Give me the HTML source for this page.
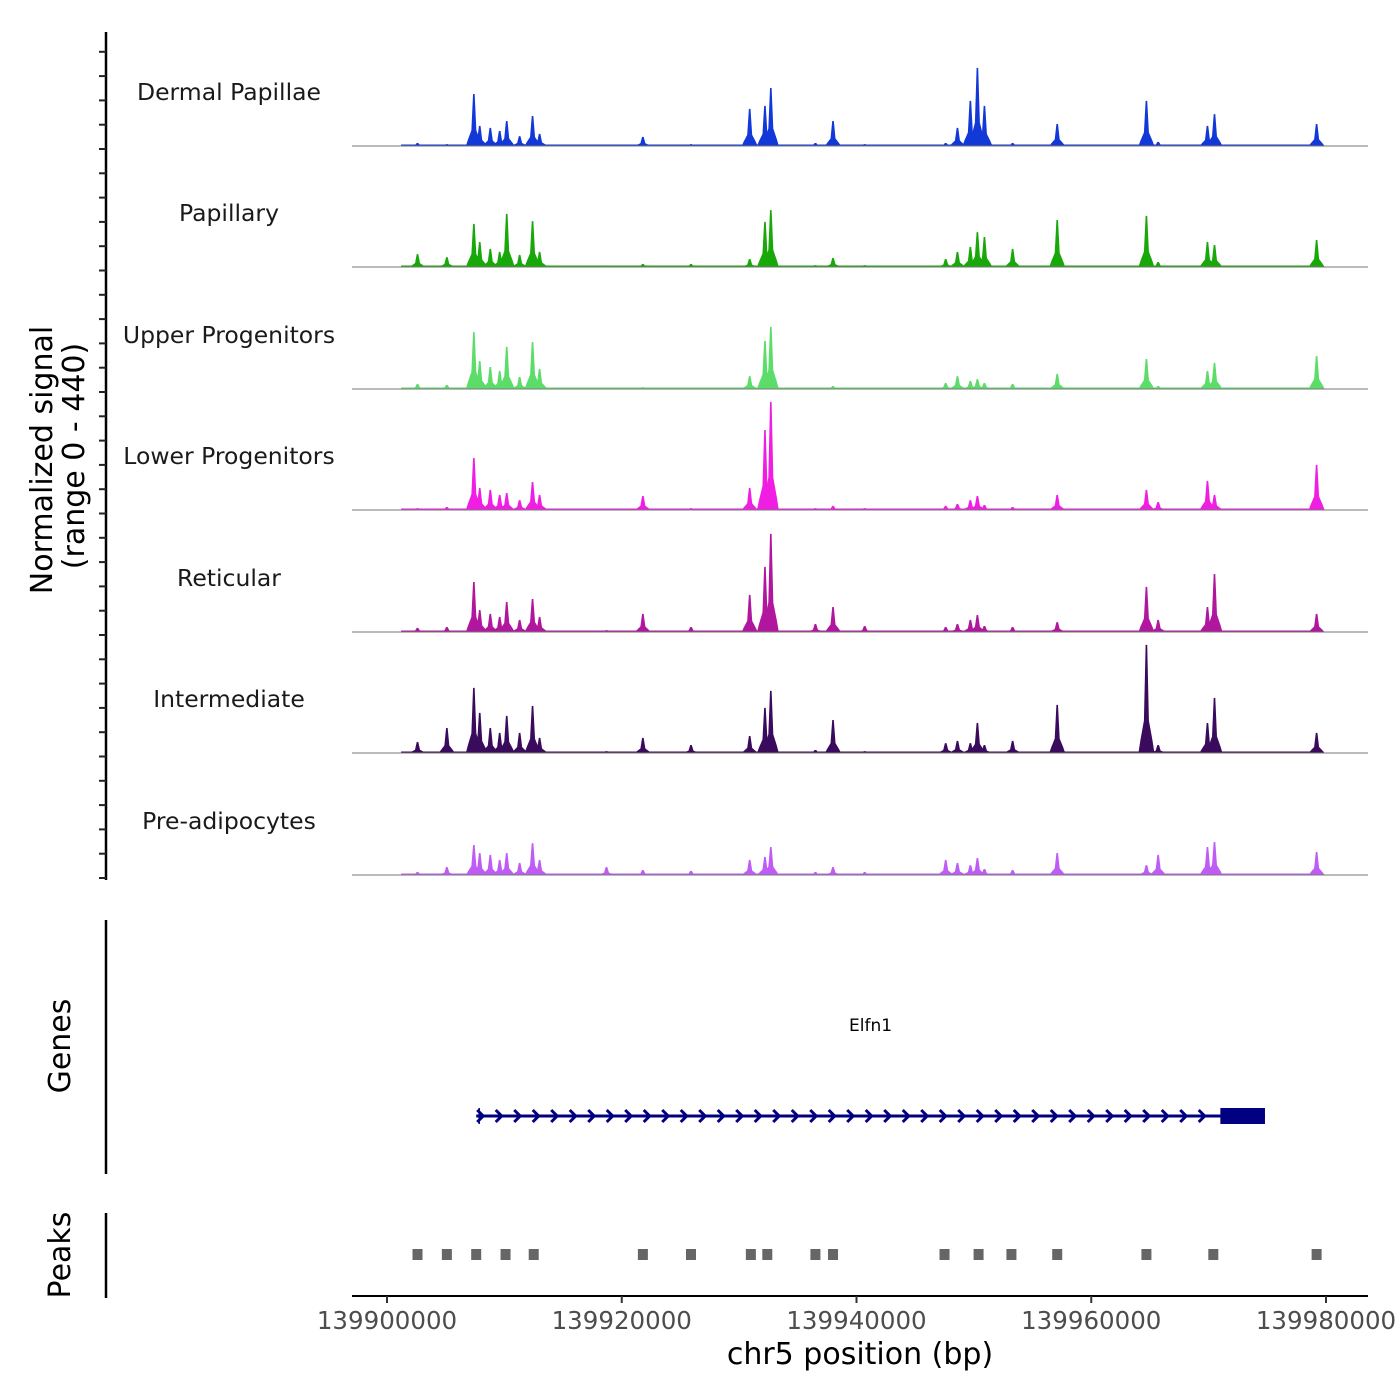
<!DOCTYPE html>
<html><head><meta charset="utf-8"><style>
html,body{margin:0;padding:0;background:#fff;}
svg{display:block;font-family:"DejaVu Sans","Liberation Sans",sans-serif;}
</style></head><body>
<svg id="chart" width="1400" height="1400" viewBox="0 0 1400 1400"></svg>
<script>
// ---- data ----
const START = 139900000;
const trackNames = ["Dermal Papillae","Papillary","Upper Progenitors","Lower Progenitors","Reticular","Intermediate","Pre-adipocytes"];
const trackColors = ["#1238d8","#18a80a","#5cdc68","#f01ee2","#b0169e","#3a0a5c","#c05cf6"];
// peak positions, kb offset from START
const peakKb = [2.6,5.1,7.4,7.9,8.8,9.6,10.2,11.3,12.4,13.0,18.7,21.8,25.9,30.9,32.2,32.7,36.5,38.0,40.7,47.6,48.6,49.7,50.3,50.9,53.3,57.1,64.7,65.7,69.9,70.5,79.2];
const sigDermal = [11,7,189,73,66,55,91,36,109,44,4,33,7,135,146,211,11,91,7,11,66,164,284,146,11,80,164,15,73,116,80];
const sigPapillary = [47,36,157,91,66,55,193,44,167,55,4,11,11,29,164,207,7,33,7,29,55,73,127,109,66,171,186,18,91,80,98];
const sigUpper = [18,15,207,102,80,66,153,44,171,73,4,7,4,47,175,226,4,11,4,22,47,29,36,22,18,55,109,11,66,95,120];
const sigLower = [7,11,189,80,73,55,62,36,102,55,4,51,7,80,291,393,7,15,7,15,22,36,51,18,11,55,73,29,106,55,164];
const sigReticular = [15,18,182,80,66,55,109,44,120,55,7,66,18,135,237,357,29,91,22,18,29,44,62,22,18,36,164,44,91,211,66];
const sigIntermediate = [40,91,237,146,91,73,135,73,171,55,7,55,29,62,164,226,11,120,7,36,44,36,109,29,44,175,393,29,109,200,73];
const sigPre = [11,29,109,80,73,55,80,44,116,55,29,18,15,55,66,102,11,29,11,55,44,36,62,22,18,80,36,73,102,120,84];
const signals = [sigDermal,sigPapillary,sigUpper,sigLower,sigReticular,sigIntermediate,sigPre];
const peakRegionsKb = [2.6,5.1,7.6,10.1,12.5,21.8,25.9,31.0,32.4,36.5,38.0,47.5,50.4,53.2,57.1,64.7,70.4,79.2];
const xTickKb = [0,20,40,60,80];
const xTickLabels = ["139900000","139920000","139940000","139960000","139980000"];
const geneName = "Elfn1";
const geneStartKb = 7.6, geneEndKb = 74.8, geneThickStartKb = 71.0;
const Y_MAX = 440;

// ---- scales ----
const X0 = 387, PX_PER_KB = (1326-387)/80;
const xs = kb => X0 + kb*PX_PER_KB;
const baselines = [146,267,389,510,632,753,875];
const TRACK_H = 121;
const ys = (v,b) => b - v*TRACK_H/Y_MAX;

const NS = "http://www.w3.org/2000/svg";
const svg = document.getElementById("chart");
function mk(tag, attrs, parent){
  const e = document.createElementNS(NS, tag);
  for (const k in attrs) e.setAttribute(k, attrs[k]);
  (parent||svg).appendChild(e);
  return e;
}

// left axis for tracks
let a = mk("line",{x1:106,y1:32,x2:106,y2:880,stroke:"#000","stroke-width":2.5});


for (let y=878; y>=40; y-=24.3){
  const t = mk("line",{x1:99,y1:y,x2:106,y2:y,stroke:"#222","stroke-width":2});
  
  
}
let yt = mk("text",{transform:"translate(52,460) rotate(-90)","text-anchor":"middle","font-size":30,fill:"#000"});
yt.textContent = "Normalized signal";


let yt2 = mk("text",{transform:"translate(84,456) rotate(-90)","text-anchor":"middle","font-size":30,fill:"#000"});
yt2.textContent = "(range 0 - 440)";



// tracks
trackNames.forEach((name, ti) => {
  const b = baselines[ti];
  const g = mk("g",{});
  
  
  mk("rect",{x:xs(1.2),y:b-1.5,width:xs(79.6)-xs(1.2),height:1.5,fill:trackColors[ti]},g);
  signals[ti].forEach((v,i) => {
    const x = xs(peakKb[i]), top = ys(v,b), mid = ys(v*0.3,b), low = ys(v*0.12,b);
    const p = mk("polygon",{points:`${x-8},${b} ${x-6},${low} ${x-2.5},${mid} ${x-0.8},${top} ${x+0.8},${top} ${x+2.5},${mid} ${x+6},${low} ${x+8},${b}`,fill:trackColors[ti]},g);
    
    
  });
  const bl = mk("line",{x1:352,y1:b,x2:1368,y2:b,stroke:"#777","stroke-width":1},g);
  
  
  const lab = mk("text",{x:229,y:b-46,"text-anchor":"middle","font-size":23.5,fill:"#1a1a1a"});
  lab.textContent = name;
  
  
});

// genes panel
let ga = mk("line",{x1:106,y1:920,x2:106,y2:1174,stroke:"#000","stroke-width":2.5});


let gt = mk("text",{transform:"translate(70,1046) rotate(-90)","text-anchor":"middle","font-size":30,fill:"#000"});
gt.textContent = "Genes";


const gx1 = xs(geneStartKb), gx2 = xs(geneEndKb), gth = xs(geneThickStartKb);
let gl = mk("line",{x1:gx1,y1:1116,x2:gx2,y2:1116,stroke:"#000080","stroke-width":3});


mk("line",{x1:gx1+3,y1:1108,x2:gx1+3,y2:1124,stroke:"#000080","stroke-width":1.5});
for (let x = gx1+4; x < gth-4; x += 18.5){
  const c = mk("polyline",{points:`${x-3},${1110} ${x+3},${1116} ${x-3},${1122}`,fill:"none",stroke:"#000080","stroke-width":3});
  
  
}
let gb = mk("rect",{x:gth,y:1108,width:gx2-gth,height:16,fill:"#000080"});


let gn = mk("text",{x:(gx1+gx2)/2,y:1031,"text-anchor":"middle","font-size":17,fill:"#000"});
gn.textContent = geneName;



// peaks panel
let pa = mk("line",{x1:106,y1:1213,x2:106,y2:1298,stroke:"#000","stroke-width":2.5});


let pt = mk("text",{transform:"translate(70,1255) rotate(-90)","text-anchor":"middle","font-size":30,fill:"#000"});
pt.textContent = "Peaks";


peakRegionsKb.forEach(kb => {
  const r = mk("rect",{x:xs(kb)-5,y:1249,width:10,height:11,fill:"#666"});
  
  
});

// x axis
let xa = mk("line",{x1:352,y1:1296,x2:1368,y2:1296,stroke:"#000","stroke-width":2});


xTickKb.forEach((kb,i) => {
  const x = xs(kb);
  const t = mk("line",{x1:x,y1:1296,x2:x,y2:1303,stroke:"#333","stroke-width":2});
  
  
  const l = mk("text",{x:x,y:1329,"text-anchor":"middle","font-size":24.5,fill:"#4d4d4d"});
  l.textContent = xTickLabels[i];
  
  
});
let xt = mk("text",{x:860,y:1364,"text-anchor":"middle","font-size":30,fill:"#000"});
xt.textContent = "chr5 position (bp)";


</script>
</body></html>
